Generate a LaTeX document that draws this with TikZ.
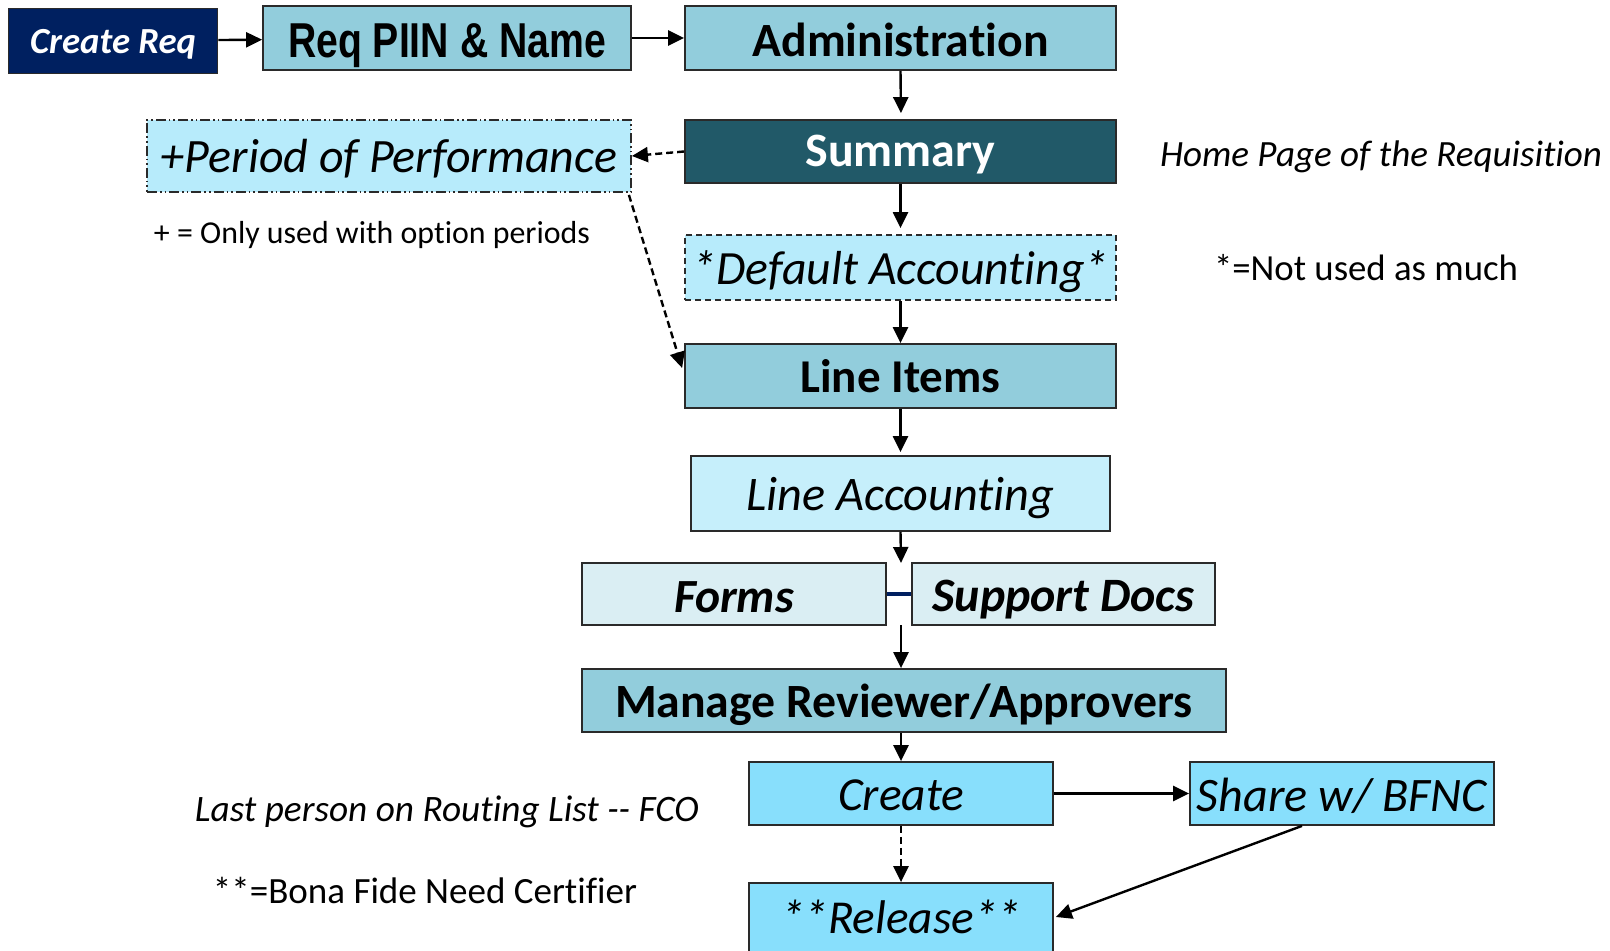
\documentclass[tikz,border=0pt]{standalone}
\usepackage{fontspec}
\setmainfont{Carlito}[Ligatures={NoCommon}]
\newfontfamily\narrowfont[FakeStretch=0.8]{Liberation Sans}
\usetikzlibrary{arrows.meta,calc}
\definecolor{navyc}{HTML}{002060}
\definecolor{midblue}{HTML}{92CDDC}
\definecolor{darkteal}{HTML}{215968}
\definecolor{lightcyan}{HTML}{B7EBFB}
\definecolor{paleacc}{HTML}{C6EFFB}
\definecolor{palegray}{HTML}{DAEEF3}
\definecolor{brightcyan}{HTML}{88DFFC}
\definecolor{bordc}{HTML}{2A2A2A}
\newcommand{\fw}[3]{\raisebox{#2}[\height][\depth]{\resizebox{#1}{!}{#3}}}
\tikzset{
  box/.style={draw=bordc, line width=0.9pt, inner sep=0pt, anchor=center},
  arr/.style={-{Triangle[length=8pt,width=7.5pt]}, line width=1.2pt, draw=black},
  darr/.style={arr, dash pattern=on 3.5pt off 2pt},
  ddot/.style={dash pattern=on 5pt off 1.5pt on 0.8pt off 1.5pt on 0.8pt off 1.5pt},
  note/.style={inner sep=0pt, anchor=center}
}
\begin{document}
\begin{tikzpicture}[x=0.5pt,y=-0.5pt]
\clip (0,0) rectangle (1610,951);
\fill[white] (0,0) rectangle (1610,951);
% row 1
\node[box, fill=navyc, minimum width=104.5pt, minimum height=32.5pt] (cr) at (113,41)
  {\fw{83pt}{-1.5pt}{\color{white}\bfseries\itshape Create Req}};
\node[box, fill=midblue, minimum width=184pt, minimum height=32pt] (piin) at (447,38)
  {\fw{159pt}{-4pt}{\narrowfont\bfseries Req PIIN \& Name}};
\node[box, fill=midblue, minimum width=215.5pt, minimum height=32pt] (adm) at (900.5,38)
  {\fw{148pt}{-1pt}{\bfseries Administration}};
% summary and period
\node[box, fill=darkteal, minimum width=215.5pt, minimum height=31.5pt] (sum) at (900.5,151.5)
  {\fw{95pt}{-1.5pt}{\color{white}\bfseries Summary}};
\node[box, ddot, fill=lightcyan, minimum width=242pt, minimum height=36pt] (per) at (389,156)
  {\fw{228pt}{-1.5pt}{\itshape +Period of Performance}};
\node[note] (onlyt) at (372,235) {\fw{218pt}{0pt}{+ = Only used with option periods}};
\node[note] (homet) at (1381,157) {\fw{221pt}{0pt}{\itshape Home Page of the Requisition}};
% default accounting
\node[box, dash pattern=on 3pt off 2pt, fill=lightcyan, minimum width=215.5pt, minimum height=32.5pt] (def) at (900.5,267.5)
  {\fw{208pt}{-2pt}{\itshape *Default Accounting*}};
\node[note] (nott) at (1366,268) {\fw{152pt}{0pt}{*=Not used as much}};
% line items
\node[box, fill=midblue, minimum width=215.5pt, minimum height=32pt] (li) at (900.5,376)
  {\fw{100pt}{0pt}{\bfseries Line Items}};
\node[box, fill=paleacc, minimum width=209.5pt, minimum height=37.5pt] (la) at (900.5,493.5)
  {\fw{154pt}{-2.5pt}{\itshape Line Accounting}};
% forms / support
\node[box, fill=palegray, minimum width=152pt, minimum height=31pt] (forms) at (734,594)
  {\fw{60pt}{-1.5pt}{\bfseries\itshape Forms}};
\node[box, fill=palegray, minimum width=151.5pt, minimum height=31pt] (sup) at (1063.5,594)
  {\fw{131pt}{-3pt}{\bfseries\itshape Support Docs}};
\coordinate (fsTop) at (901,563);
\coordinate (fsBot) at (901,625);
% manage
\node[box, fill=midblue, minimum width=322pt, minimum height=31.5pt] (man) at (904,700.5)
  {\fw{289pt}{-2pt}{\bfseries Manage Reviewer/Approvers}};
% create / share / release
\node[box, fill=brightcyan, minimum width=152pt, minimum height=31.5pt] (cre) at (901,793.5)
  {\fw{63pt}{-1pt}{\itshape Create}};
\node[box, fill=brightcyan, minimum width=152pt, minimum height=31.5pt] (share) at (1342,793.5)
  {\fw{145pt}{-1pt}{\itshape Share w/ BFNC}};
\node[box, fill=brightcyan, minimum width=152pt, minimum height=36pt] (rel) at (901,919)
  {\fw{120pt}{1pt}{\itshape **Release**}};
\node[note] (lastt) at (447,812) {\fw{252pt}{0pt}{\itshape Last person on Routing List -{}- FCO}};
\node[note] (bonat) at (425,890) {\fw{212pt}{0pt}{**=Bona Fide Need Certifier}};
% connectors
\draw[arr] (cr) -- (piin);
\draw[arr] (piin) -- (adm);
\draw[arr, shorten >=3pt] (adm.south) -- ($(sum.north)+(0.5,0)$);
\draw[darr] (sum.west) -- (per.east);
\draw[darr] ($(per.south east)+(-3,2)$) -- ($(li.west)+(-2,-8)$);
\draw[arr, shorten >=3pt] (sum.south) -- (def.north);
\draw[arr] (def.south) -- (li.north);
\draw[arr, shorten >=1.5pt] (li.south) -- (la.north);
\draw[arr] (la.south) -- (fsTop);
\draw[navyc, line width=2pt] (forms.east) -- (sup.west);
\draw[arr] (fsBot) -- ($(man.north)+(-3,0)$);
\draw[arr] ($(man.south)+(-3,0)$) -- (cre.north);
\draw[arr] (cre) -- (share);
\draw[darr] (cre.south) -- (rel.north);
\draw[arr] ($(share.south)+(-40,0)$) -- ($(rel.east)+(2,-2)$);
\end{tikzpicture}
\end{document}
